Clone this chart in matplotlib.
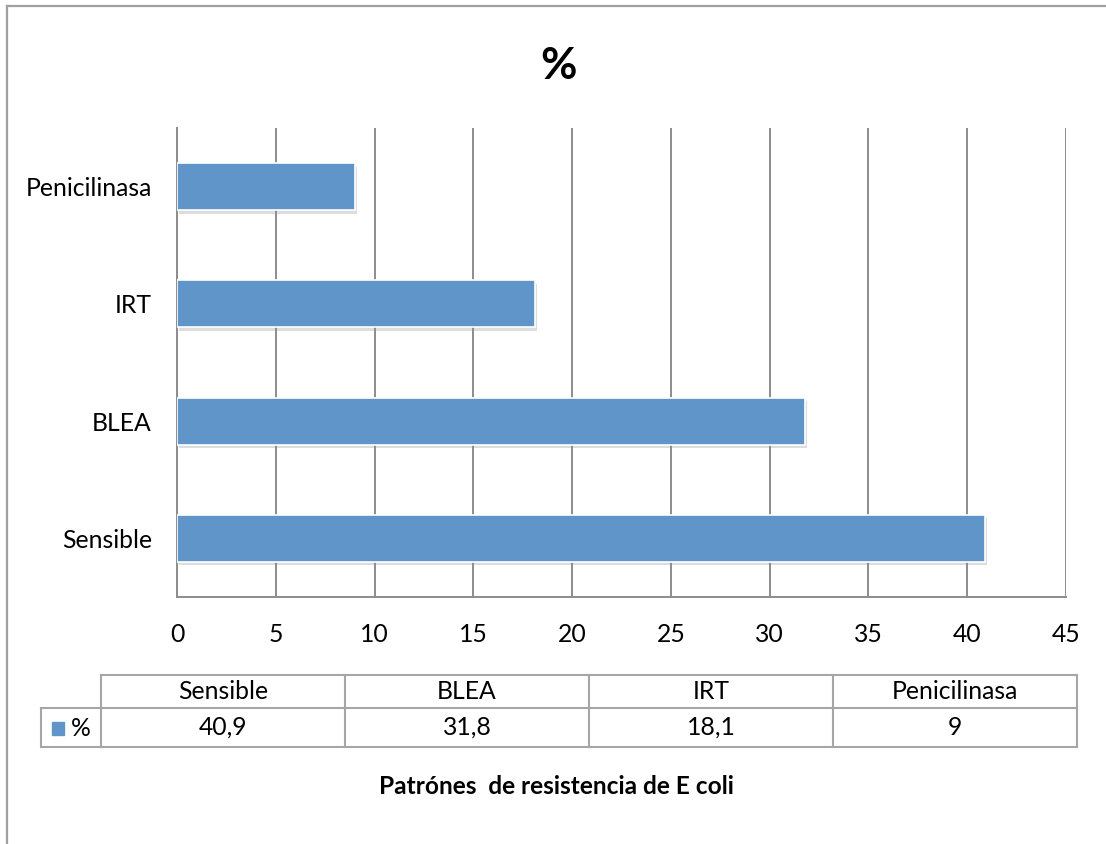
import matplotlib
matplotlib.use("Agg")
import matplotlib.pyplot as plt
import matplotlib.patheffects as pe
from matplotlib.lines import Line2D
from matplotlib.patches import Rectangle

categories = ["Sensible", "BLEA", "IRT", "Penicilinasa"]
values = [40.9, 31.8, 18.1, 9]
series_name = "%"
title = "%"
xlabel = "Patrónes  de resistencia de E coli"
xticks = [0, 5, 10, 15, 20, 25, 30, 35, 40, 45]

W, H = 1106, 844
BAR = "#5F95C8"
GRID = "#8C8C8C"
TBL = "#A6A6A6"
FONT = ["Lato", "DejaVu Sans"]
FS = 17.8
plt.rcParams["font.family"] = FONT

fig = plt.figure(figsize=(W / 100, H / 100), dpi=100)
fig.patch.set_facecolor("white")

def fx(x):
    return x / W

def fy(y):
    return 1 - y / H

# plot area
ax = fig.add_axes([fx(177), fy(597), fx(1066) - fx(177), fy(128) - fy(597)])
ypos = list(range(len(categories)))
bars = ax.barh(ypos, values, height=0.4, color=BAR, edgecolor="white", linewidth=1.2, zorder=3)
for b in bars:
    b.set_path_effects([pe.SimplePatchShadow(offset=(1.5, -2.5), shadow_rgbFace="#909090", alpha=0.3), pe.Normal()])
ax.set_xlim(0, 45)
ax.set_ylim(-0.5, len(categories) - 0.5)
ax.set_xticks(xticks)
ax.set_xticklabels([str(t) for t in xticks])
ax.set_yticks(ypos)
ax.set_yticklabels(categories)
ax.tick_params(axis="both", length=0, labelsize=FS, colors="black")
ax.tick_params(axis="y", pad=18)
ax.tick_params(axis="x", pad=19)
ax.xaxis.grid(True, color=GRID, linewidth=1.4, zorder=0)
ax.set_axisbelow(True)
for s in ["top", "right"]:
    ax.spines[s].set_visible(False)
for s in ["left", "bottom"]:
    ax.spines[s].set_color(GRID)
    ax.spines[s].set_linewidth(1.4)

# title and bottom label
fig.text(fx(559), fy(66), title, ha="center", va="center", fontsize=32, fontweight="bold")
fig.text(fx(556), fy(786), xlabel, ha="center", va="center", fontsize=17.6, fontweight="bold")

# data table
def hline(x0, x1, y):
    fig.add_artist(Line2D([fx(x0), fx(x1)], [fy(y), fy(y)], color=TBL, lw=1.5))

def vline(x, y0, y1):
    fig.add_artist(Line2D([fx(x), fx(x)], [fy(y0), fy(y1)], color=TBL, lw=1.5))

t_left, t_key, t_right = 41, 101, 1077
y_top, y_mid, y_bot = 675, 708, 747
col_w = (t_right - t_key) / len(categories)
hline(t_key, t_right, y_top)
hline(t_left, t_right, y_mid)
hline(t_left, t_right, y_bot)
vline(t_left, y_mid, y_bot)
for i in range(len(categories) + 1):
    vline(t_key + i * col_w, y_top, y_bot)
for i, (c, v) in enumerate(zip(categories, values)):
    cx = t_key + (i + 0.5) * col_w
    fig.text(fx(cx), fy((y_top + y_mid) / 2), c, ha="center", va="center", fontsize=FS)
    fig.text(fx(cx), fy((y_mid + y_bot) / 2), f"{v:g}".replace(".", ","), ha="center", va="center", fontsize=FS)
fig.add_artist(Rectangle((fx(52), fy(735)), fx(12), fy(722) - fy(735), color=BAR))
fig.text(fx(71), fy(729), series_name, ha="left", va="center", fontsize=FS)

# chart border
fig.add_artist(Line2D([fx(7), fx(7)], [fy(6), 0], color="#A0A0A0", lw=1.6))
fig.add_artist(Line2D([fx(7), 1], [fy(6), fy(6)], color="#A0A0A0", lw=1.6))

fig.savefig("out.png", dpi=100, facecolor="white")
